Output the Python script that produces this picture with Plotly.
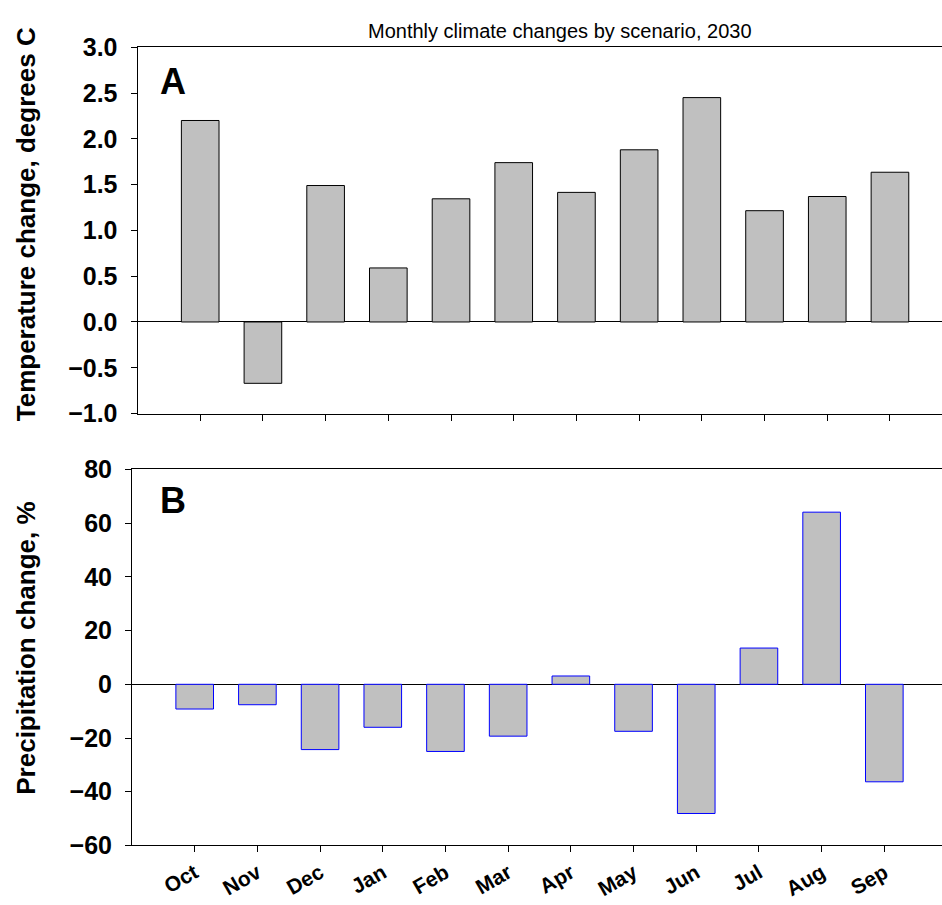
import plotly.graph_objects as go

months = ["Oct", "Nov", "Dec", "Jan", "Feb", "Mar", "Apr", "May", "Jun", "Jul", "Aug", "Sep"]
temp_change = [2.20, -0.67, 1.49, 0.59, 1.345, 1.74, 1.415, 1.88, 2.45, 1.215, 1.37, 1.635]
precip_change = [-9.2, -7.6, -24.3, -16.0, -25.0, -19.3, 3.1, -17.5, -48.1, 13.5, 64.1, -36.3]

W, H = 942, 905
FONT = "Arial, Liberation Sans, sans-serif"

def px(x):
    return x / W

def py(y):
    return 1 - y / H

fig = go.Figure()

fig.add_trace(go.Bar(
    x=list(range(12)), y=temp_change, width=0.6,
    marker=dict(color="#C0C0C0", line=dict(color="black", width=1)),
    xaxis="x", yaxis="y", showlegend=False,
))
fig.add_trace(go.Bar(
    x=list(range(12)), y=precip_change, width=0.6,
    marker=dict(color="#C0C0C0", line=dict(color="#0000FF", width=1)),
    xaxis="x2", yaxis="y2", showlegend=False,
))

axis_common = dict(showgrid=False, showline=True, linecolor="black", linewidth=1,
                   ticks="outside", ticklen=6, tickwidth=1, tickcolor="black")

tick_font = dict(family=FONT, size=25, color="black", weight="bold")

fig.update_layout(
    width=W, height=H,
    margin=dict(l=0, r=0, t=0, b=0),
    paper_bgcolor="white", plot_bgcolor="white",
    xaxis=dict(domain=[px(137.5), 1], range=[-1, 11.83], tickvals=list(range(12)),
               showticklabels=False, mirror=True, anchor="y", **axis_common),
    yaxis=dict(domain=[py(412.3), py(34.3)], range=[-1, 3], dtick=0.5, tickformat=".1f",
               zeroline=True, zerolinecolor="black", zerolinewidth=1,
               tickfont=tick_font, ticklabelstandoff=8, anchor="x", **axis_common),
    xaxis2=dict(domain=[px(132), 1], range=[-1, 11.92], tickvals=list(range(12)),
                ticktext=months, tickangle=-30, mirror=True, anchor="y2",
                tickfont=dict(family=FONT, size=21, color="black", weight="bold"),
                **axis_common),
    yaxis2=dict(domain=[py(858), py(470)], range=[-60, 80], dtick=20,
                zeroline=True, zerolinecolor="black", zerolinewidth=1,
                tickfont=tick_font, ticklabelstandoff=8, anchor="x2", **axis_common),
    annotations=[
        dict(text="Monthly climate changes by scenario, 2030", x=px(560), y=py(18),
             xref="paper", yref="paper", xanchor="center", yanchor="middle", showarrow=False,
             font=dict(family=FONT, size=20, color="black")),
        dict(text="Temperature change, degrees C", x=px(26), y=py(217), textangle=-90,
             xref="paper", yref="paper", xanchor="center", yanchor="middle", showarrow=False,
             font=dict(family=FONT, size=26, color="black", weight="bold")),
        dict(text="Precipitation change, %", x=px(26), y=py(655), textangle=-90,
             xref="paper", yref="paper", xanchor="center", yanchor="middle", showarrow=False,
             font=dict(family=FONT, size=26, color="black", weight="bold")),
        dict(text="A", x=px(158), y=py(70), xref="paper", yref="paper",
             xanchor="left", yanchor="middle", showarrow=False,
             font=dict(family=FONT, size=36, color="black", weight="bold")),
        dict(text="B", x=px(158), y=py(502), xref="paper", yref="paper",
             xanchor="left", yanchor="middle", showarrow=False,
             font=dict(family=FONT, size=36, color="black", weight="bold")),
    ],
)

fig.write_html("out.html")
